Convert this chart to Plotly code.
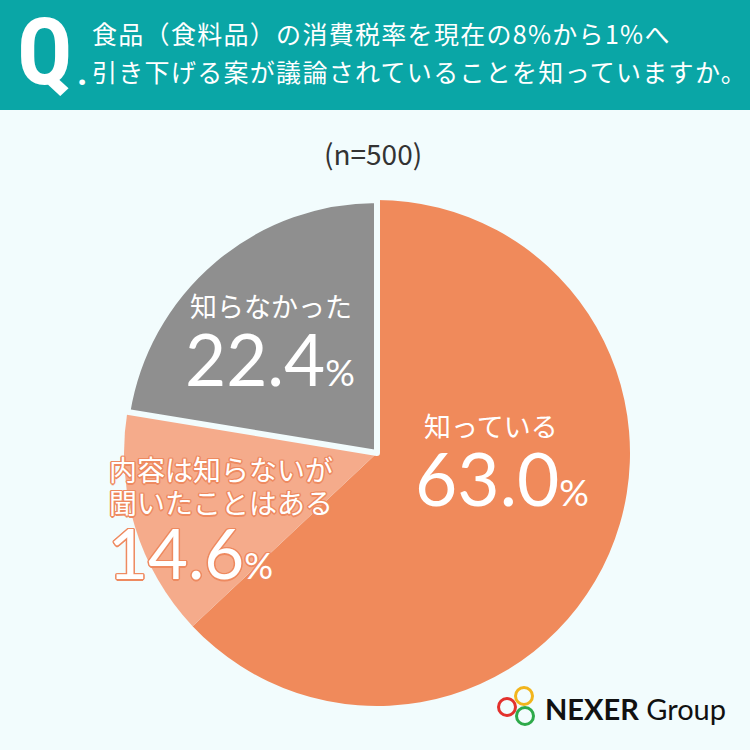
import plotly.graph_objects as go

# ===============================
# Data
# ===============================
labels = ["知っている", "内容は知らないが聞いたことはある", "知らなかった"]
values = [63.0, 14.6, 22.4]
colors = ["#f08a5b", "#f5ab8b", "#8f8f8f"]

question = ["食品（食料品）の消費税率を現在の8%から1%へ",
            "引き下げる案が議論されていることを知っていますか。"]
sample = "(n=500)"

W = H = 750
BG = "#f2fcfd"
TEAL = "#0aa6a6"
JP = "Noto Sans CJK JP"
NUM = "Lato"
COND = "Roboto Condensed, DejaVu Sans Condensed, Liberation Sans Narrow, Roboto"


def px(x):
    return x / W


def py(y):
    return 1 - y / H


fig = go.Figure()
fig.add_trace(go.Pie(
    labels=labels,
    values=values,
    sort=False,
    direction="clockwise",
    rotation=0,
    textinfo="none",
    hoverinfo="label+value",
    marker=dict(colors=colors, line=dict(color=[BG, BG, BG], width=[0, 0, 6])),
    domain=dict(x=[px(124), px(630)], y=[py(706), py(200)]),
    showlegend=False,
))

outline = "#ee8a60"
shadow_out = ", ".join(f"{a}px {b}px 0px {outline}" for a, b in
                       [(1, 1), (-1, -1), (1, -1), (-1, 1), (0, 1.5), (0, -1.5), (1.5, 0), (-1.5, 0)])


def pct_text(v, big, small):
    return f"<span style='font-size:{big}px'>{v:.1f}</span><span style='font-size:{small}px'>%</span>"


def note(x, y, text, font, xanchor="left"):
    return dict(x=px(x), y=py(y), text=text, font=font, xanchor=xanchor, yanchor="middle",
                showarrow=False, xref="paper", yref="paper")


ann = []
# header
ann.append(note(15, 52, "Q", dict(family=COND, size=92, color="white", weight=700)))
ann.append(note(75, 73, ".", dict(family=COND, size=36, color="white", weight=700)))
for i, line in enumerate(question):
    ann.append(note(90, 33 + 38 * i, f"<span style='letter-spacing:1.3px'>{line}</span>",
                    dict(family=JP, size=25, color="white")))
ann.append(note(373, 153, sample, dict(family=JP, size=28, color="#333333"), "center"))

# slice labels
ann.append(note(188, 306, labels[2], dict(family=JP, size=27, color="white")))
ann.append(note(183, 358, pct_text(values[2], 71, 37), dict(family=NUM, size=71, color="white")))

ann.append(note(422, 426, labels[0], dict(family=JP, size=27, color="white")))
ann.append(note(413, 478, pct_text(values[0], 73, 37), dict(family=NUM, size=73, color="white")))

ann.append(note(107, 469, "内容は知らないが", dict(family=JP, size=28, color="white", shadow=shadow_out)))
ann.append(note(107, 502, "聞いたことはある", dict(family=JP, size=28, color="white", shadow=shadow_out)))
ann.append(note(106, 552, pct_text(values[1], 69, 36),
                dict(family=NUM, size=69, color="white", shadow=shadow_out)))

# logo
ann.append(note(543, 708, "<b>NEXER</b> Group", dict(family="Lato", size=29, color="#111111")))

shapes = [dict(type="rect", xref="paper", yref="paper", x0=0, x1=1, y0=py(110), y1=1,
               fillcolor=TEAL, line_width=0, layer="below")]
for cx, cy, c in [(524, 696, "#f2b51c"), (507, 707, "#e3312d"), (525, 716, "#2eaa4a")]:
    r = 8.5
    shapes.append(dict(type="circle", xref="paper", yref="paper",
                       x0=px(cx - r), x1=px(cx + r), y0=py(cy + r), y1=py(cy - r),
                       line=dict(color=c, width=3), fillcolor="rgba(0,0,0,0)"))

fig.update_layout(
    width=W, height=H,
    margin=dict(l=0, r=0, t=0, b=0),
    paper_bgcolor=BG,
    plot_bgcolor=BG,
    annotations=ann,
    shapes=shapes,
)

fig.write_html("out.html", config={"displayModeBar": False},
               post_script="document.body.style.margin='0';")
